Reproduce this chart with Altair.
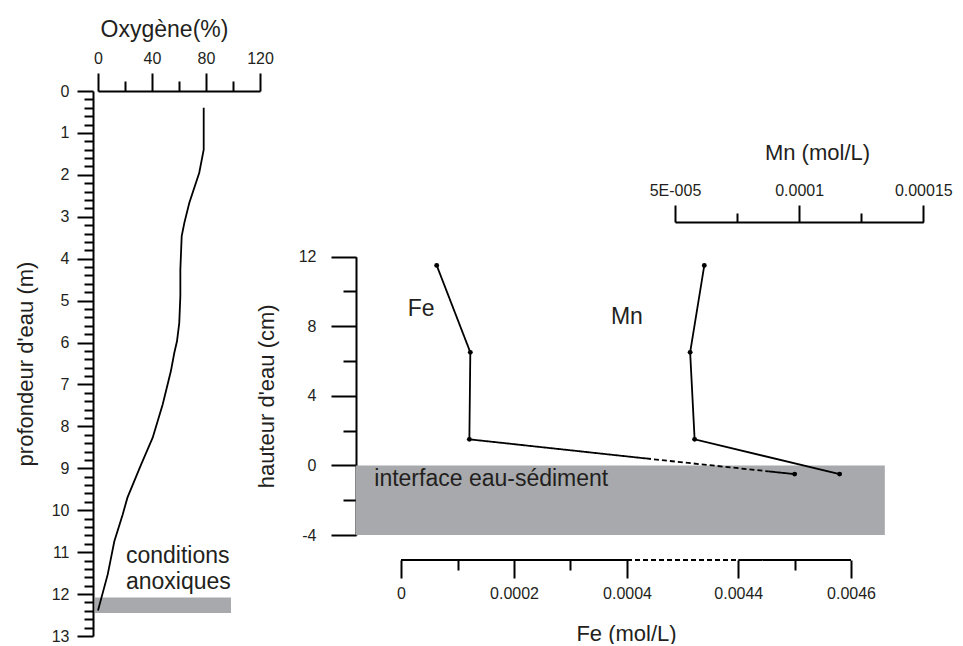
import altair as alt
import pandas as pd

# ---------------- data ----------------
# Left panel: oxygen saturation profile
o2_depth = [0.4, 1.4, 1.95, 2.67, 3.14, 3.46, 4.26, 4.89, 5.53, 5.97, 6.25,
            6.68, 7.48, 8.27, 8.91, 9.7, 10.1, 10.74, 11.53, 12.39]
o2_percent = [78.3, 78.3, 75.0, 67.6, 64.0, 62.0, 61.0, 61.0, 60.2, 58.5, 56.5,
              54.0, 47.9, 40.5, 31.9, 21.8, 18.3, 12.1, 7.2, 0.0]

anoxic_depth = [12.08, 12.45]
anoxic_o2 = [-2.2, 98.5]
anoxic_text = ["conditions", "anoxiques"]
anoxic_text_depth = [11.26, 11.89]
anoxic_text_o2 = [20.7, 20.7]

o2_ticks = [0, 20, 40, 60, 80, 100, 120]
depth_ticks = [i / 5 for i in range(66)]

# Right panel: Fe and Mn profiles
height_cm = [11.5, 6.5, 1.5, -0.5]
fe_mol = [0.0000632, 0.0001227, 0.000121, 0.0045]
mn_mol = [0.0000618, 0.0000561, 0.0000579, 0.0001163]

# points where the Fe profile enters / leaves the dashed (axis-break) part
fe_break_fe = [0.001083, 0.004453]
fe_break_height = [0.40, -0.34]

sediment_height = [0, -4]
sediment_fe = [-0.00008, 0.00466]
interface_label = "interface eau-sédiment"
interface_fe = -0.0000473
interface_height = -1.19

fe_label_pos = [0.0000119, 8.58]
mn_label_pos = [0.0000242, 8.14]

height_ticks = [-4, -2, 0, 2, 4, 6, 8, 10, 12]
fe_domain = [0, 0.0004, 0.0044, 0.0046]
fe_ticks = [0, 0.0001, 0.0002, 0.0003, 0.0004, 0.0044, 0.0045, 0.0046]
fe_tick_labels = ["0", "", "0.0002", "", "0.0004", "0.0044", "", "0.0046"]
fe_axis_parts = [[0, 0.0004, "solid"], [0.0004, 0.0044, "dashed"], [0.0044, 0.0046, "solid"]]
mn_domain = [0.00005, 0.00015]
mn_ticks = [0.00005, 0.000075, 0.0001, 0.000125, 0.00015]
mn_tick_labels = ["5E-005", "", "0.0001", "", "0.00015"]

# ---------------- style / layout ----------------
FONT = "Liberation Sans"
TXT = "#231f20"
BAND = "#a7a9ac"
LEFT_W, LEFT_H = 162, 545
RIGHT_W, RIGHT_H = 529, 444
FE_RANGE = [45, 271, 382.3, 495]
MN_RANGE = [319, 567.3]
H_RANGE = [444, 165.7]
FE_OFFSET = 25
MN_OFFSET = -131


def ax(**over):
    base = dict(domainColor="black", domainWidth=2, tickColor="black", tickWidth=2,
                labelFont=FONT, labelFontSize=16, labelColor=TXT,
                titleFont=FONT, titleFontSize=22, titleFontWeight="normal", titleColor=TXT,
                grid=False, labelOverlap=False, labelFlush=False)
    base.update(over)
    return base


def lab_expr(vals, labs):
    e = "''"
    for v, l in reversed(list(zip(vals, labs))):
        e = f"abs(datum.value - ({v!r})) < 1e-9 ? '{l}' : ({e})"
    return e


def major_test(vals, labs):
    parts = [f"abs(datum.value - ({v!r})) < 1e-9" for v, l in zip(vals, labs) if l]
    return " || ".join(parts)


def tick_cond(test, major, minor):
    return {"condition": {"test": test, "value": major}, "value": minor}


depth_major = "abs(datum.value - round(datum.value)) < 0.001"
o2_axis = alt.Axis(**ax(orient="top", values=o2_ticks, title="Oxygène(%)",
                        labelExpr="datum.value % 40 === 0 ? datum.label : ''",
                        tickSize=tick_cond("datum.value % 40 === 0", 18, 10),
                        labelPadding=7, titlePadding=9, titleX=66, titleFontSize=23,
                        titleLimit=400))
depth_axis = alt.Axis(**ax(orient="left", values=depth_ticks, title="profondeur d'eau (m)",
                           labelExpr=f"{depth_major} ? format(datum.value, 'd') : ''",
                           tickSize=tick_cond(depth_major, 16, 9),
                           labelPadding=8, titlePadding=14, offset=5))


def x_o2(f):
    return alt.X(f"{f}:Q", scale=alt.Scale(domain=[0, 120], nice=False, zero=False), axis=o2_axis)


def y_depth(f):
    return alt.Y(f"{f}:Q", scale=alt.Scale(domain=[0, 13], reverse=True, nice=False, zero=False),
                 axis=depth_axis)


o2_df = pd.DataFrame({"depth": o2_depth, "o2": o2_percent, "i": range(len(o2_depth))})
anox_df = pd.DataFrame({"x0": [anoxic_o2[0]], "x1": [anoxic_o2[1]],
                        "y0": [anoxic_depth[0]], "y1": [anoxic_depth[1]]})
anox_txt = pd.DataFrame({"x": anoxic_text_o2, "depth": anoxic_text_depth, "t": anoxic_text})

TXT_SIZE = 23
txt_kw = dict(align="left", baseline="alphabetic", font=FONT, fontSize=TXT_SIZE, color=TXT)

left = alt.layer(
    alt.Chart(anox_df).mark_rect(color=BAND).encode(
        x=x_o2("x0"), x2=alt.X2("x1"), y=y_depth("y0"), y2=alt.Y2("y1")),
    alt.Chart(o2_df).mark_line(color="black", strokeWidth=1.8).encode(
        x=x_o2("o2"), y=y_depth("depth"), order=alt.Order("i:Q")),
    alt.Chart(anox_txt).mark_text(**txt_kw).encode(
        x=x_o2("x"), y=y_depth("depth"), text="t:N"),
).properties(width=LEFT_W, height=LEFT_H)

# ---------------- right panel ----------------
h_axis = alt.Axis(**ax(orient="left", values=height_ticks, title="hauteur d'eau (cm)",
                       labelExpr="datum.value % 4 === 0 ? '' + datum.value : ''",
                       tickSize=tick_cond("datum.value % 4 === 0", 25, 13),
                       labelPadding=15, titlePadding=20))
fe_axis = alt.Axis(**ax(orient="bottom", values=fe_ticks, title="Fe (mol/L)",
                        labelExpr=lab_expr(fe_ticks, fe_tick_labels),
                        tickSize=tick_cond(major_test(fe_ticks, fe_tick_labels), 18, 10),
                        domain=False, offset=FE_OFFSET, labelPadding=7, titlePadding=22))
mn_axis = alt.Axis(**ax(orient="top", values=mn_ticks, title="Mn (mol/L)",
                        labelExpr=lab_expr(mn_ticks, mn_tick_labels),
                        tickSize=tick_cond(major_test(mn_ticks, mn_tick_labels), 17, 9),
                        offset=MN_OFFSET, labelPadding=7, titlePadding=18, titleX=461))


def y_h(f):
    return alt.Y(f"{f}:Q", scale=alt.Scale(domain=[-4, 12], range=H_RANGE, nice=False, zero=False),
                 axis=h_axis)


def x_fe(f):
    return alt.X(f"{f}:Q", scale=alt.Scale(domain=fe_domain, range=FE_RANGE, nice=False, zero=False),
                 axis=fe_axis)


def x_mn(f):
    return alt.X(f"{f}:Q", scale=alt.Scale(domain=mn_domain, range=MN_RANGE, nice=False, zero=False),
                 axis=mn_axis)


dash_scale = alt.Scale(domain=["solid", "dashed"], range=[[1, 0], [5, 3]])

sed_df = pd.DataFrame({"x0": [sediment_fe[0]], "x1": [sediment_fe[1]],
                       "y0": [sediment_height[0]], "y1": [sediment_height[1]]})
axis_line_df = pd.DataFrame(fe_axis_parts, columns=["x0", "x1", "style"])

fe_line_rows = []
seq = 0
for k in range(3):
    fe_line_rows.append(dict(fe=fe_mol[k], h=height_cm[k], seg="a", style="solid", i=seq)); seq += 1
fe_line_rows.append(dict(fe=fe_break_fe[0], h=fe_break_height[0], seg="a", style="solid", i=seq)); seq += 1
fe_line_rows.append(dict(fe=fe_break_fe[0], h=fe_break_height[0], seg="b", style="dashed", i=seq)); seq += 1
fe_line_rows.append(dict(fe=fe_break_fe[1], h=fe_break_height[1], seg="b", style="dashed", i=seq)); seq += 1
fe_line_rows.append(dict(fe=fe_break_fe[1], h=fe_break_height[1], seg="c", style="solid", i=seq)); seq += 1
fe_line_rows.append(dict(fe=fe_mol[3], h=height_cm[3], seg="c", style="solid", i=seq))
fe_line_df = pd.DataFrame(fe_line_rows)
fe_pts = pd.DataFrame({"fe": fe_mol, "h": height_cm})
mn_df = pd.DataFrame({"mn": mn_mol, "h": height_cm, "i": range(len(mn_mol))})

fe_layer = alt.layer(
    alt.Chart(sed_df).mark_rect(color=BAND).encode(
        x=x_fe("x0"), x2=alt.X2("x1"), y=y_h("y0"), y2=alt.Y2("y1")),
    alt.Chart(axis_line_df).mark_rule(color="black", strokeWidth=2).encode(
        x=x_fe("x0"), x2=alt.X2("x1"), y=alt.value(RIGHT_H + FE_OFFSET),
        strokeDash=alt.StrokeDash("style:N", scale=dash_scale, legend=None)),
    alt.Chart(fe_line_df).mark_line(color="black", strokeWidth=1.8).encode(
        x=x_fe("fe"), y=y_h("h"), detail="seg:N", order=alt.Order("i:Q"),
        strokeDash=alt.StrokeDash("style:N", scale=dash_scale, legend=None)),
    alt.Chart(fe_pts).mark_circle(size=24, color="black", opacity=1).encode(
        x=x_fe("fe"), y=y_h("h")),
    alt.Chart(pd.DataFrame({"x": [interface_fe], "h": [interface_height], "t": [interface_label]}))
    .mark_text(**txt_kw).encode(x=x_fe("x"), y=y_h("h"), text="t:N"),
    alt.Chart(pd.DataFrame({"x": [fe_label_pos[0]], "h": [fe_label_pos[1]], "t": ["Fe"]}))
    .mark_text(**txt_kw).encode(x=x_fe("x"), y=y_h("h"), text="t:N"),
)

mn_layer = alt.layer(
    alt.Chart(mn_df).mark_line(color="black", strokeWidth=1.8).encode(
        x=x_mn("mn"), y=y_h("h"), order=alt.Order("i:Q")),
    alt.Chart(mn_df).mark_circle(size=24, color="black", opacity=1).encode(
        x=x_mn("mn"), y=y_h("h")),
    alt.Chart(pd.DataFrame({"x": [mn_label_pos[0]], "h": [mn_label_pos[1]], "t": ["Mn"]}))
    .mark_text(**txt_kw).encode(x=x_mn("x"), y=y_h("h"), text="t:N"),
)

right = alt.layer(fe_layer, mn_layer).resolve_scale(x="independent").properties(
    width=RIGHT_W, height=RIGHT_H)

chart = alt.hconcat(left, right, spacing=96, bounds="flush").configure_view(
    stroke=None).properties(padding={"left": 14, "top": 18, "right": 5, "bottom": 0},
                            background="white")

chart.save("out.html", embed_options={"renderer": "svg", "actions": False})
